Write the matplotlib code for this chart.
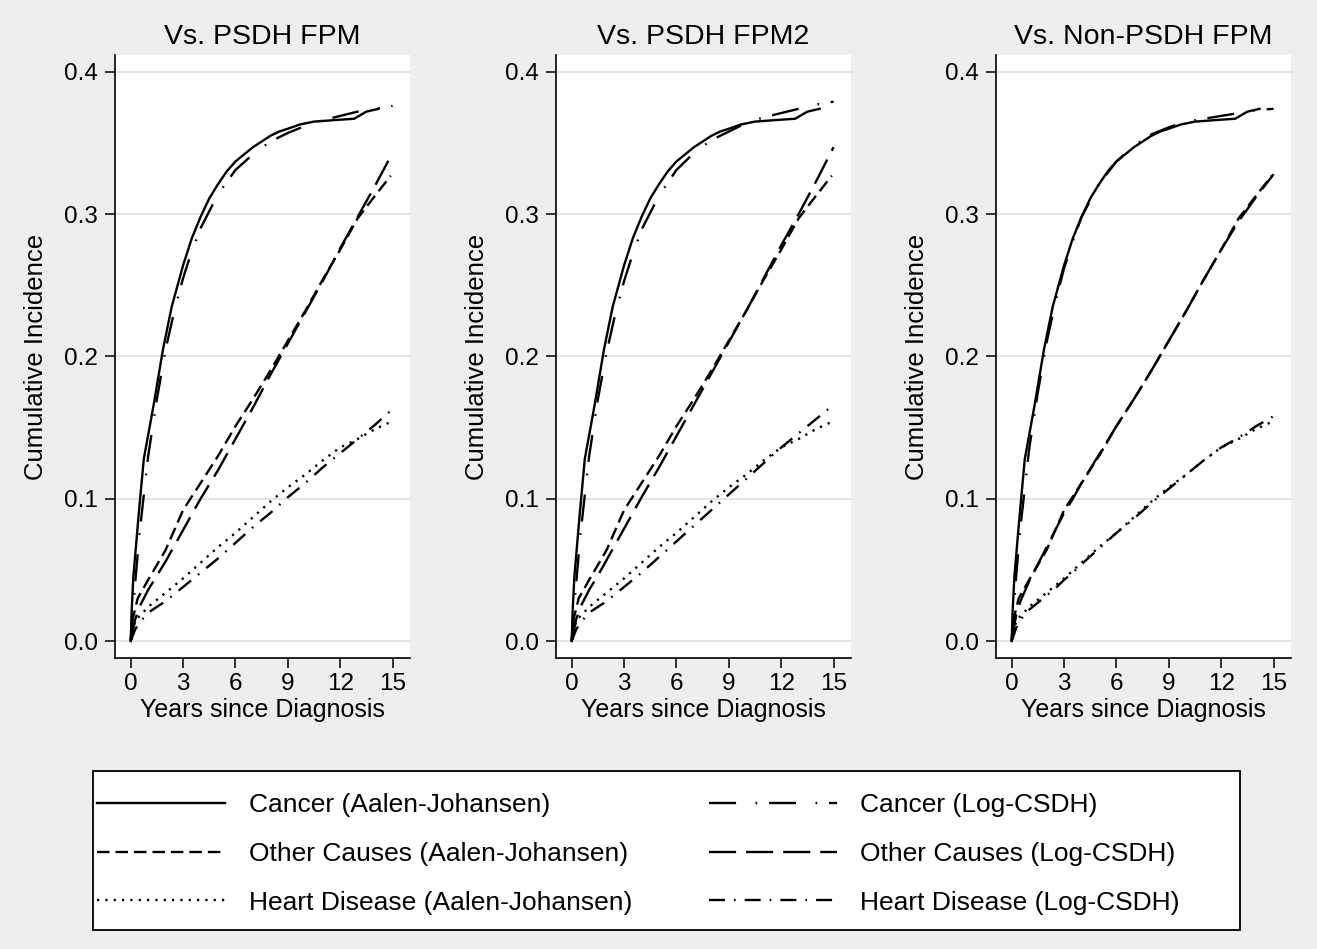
import matplotlib
matplotlib.use("Agg")
import matplotlib.pyplot as plt
from matplotlib.lines import Line2D
from matplotlib.patches import Rectangle

# Cumulative incidence: Aalen-Johansen vs fitted models, three panels

titles = ["Vs. PSDH FPM", "Vs. PSDH FPM2", "Vs. Non-PSDH FPM"]

# Aalen-Johansen estimates (same in every panel)
aj_cancer_t = [0, 0.05, 0.15, 0.45, 0.75, 1.3, 1.85, 2.35, 3.0, 3.5, 4.0, 4.5, 5.0, 5.5, 6.0, 6.5, 7.0, 7.5, 8.0, 8.5, 9.0, 9.7, 10.5, 11.6, 12.8, 13.5, 14.2]
aj_cancer = [0, 0.02, 0.045, 0.088, 0.128, 0.165, 0.205, 0.235, 0.264, 0.283, 0.298, 0.311, 0.321, 0.33, 0.337, 0.342, 0.347, 0.351, 0.355, 0.358, 0.36, 0.363, 0.365, 0.366, 0.367, 0.372, 0.374]
aj_other_t = [0, 0.1, 0.4, 1, 2, 3, 4, 5, 6, 7, 8, 9, 10, 11, 12, 13, 14, 14.9]
aj_other = [0, 0.015, 0.03, 0.043, 0.064, 0.092, 0.111, 0.13, 0.151, 0.17, 0.19, 0.211, 0.232, 0.254, 0.275, 0.297, 0.313, 0.327]
aj_heart_t = [0, 0.1, 0.3, 0.7, 1, 2, 3, 4, 5, 6, 7, 8, 9, 10, 11, 12, 13, 14, 14.9]
aj_heart = [0, 0.008, 0.015, 0.02, 0.024, 0.034, 0.044, 0.055, 0.066, 0.076, 0.087, 0.098, 0.108, 0.117, 0.127, 0.136, 0.142, 0.149, 0.154]

# Log-CSDH predictions from each model
model_t = [0, 0.25, 0.5, 1, 1.5, 2, 2.5, 3, 3.5, 4, 5, 6, 7, 8, 9, 10, 11, 12, 13, 14, 15]

psdh_cancer = [0, 0.04, 0.075, 0.13, 0.17, 0.205, 0.232, 0.255, 0.274, 0.29, 0.314, 0.331, 0.342, 0.351, 0.357, 0.362, 0.366, 0.369, 0.372, 0.374, 0.376]
psdh_other = [0, 0.015, 0.024, 0.036, 0.046, 0.056, 0.067, 0.078, 0.089, 0.1, 0.12, 0.142, 0.164, 0.187, 0.209, 0.231, 0.253, 0.276, 0.298, 0.32, 0.343]
psdh_heart = [0, 0.008, 0.013, 0.02, 0.024, 0.028, 0.033, 0.038, 0.043, 0.048, 0.058, 0.069, 0.08, 0.09, 0.101, 0.111, 0.122, 0.132, 0.142, 0.152, 0.163]

psdh2_cancer = [0, 0.04, 0.075, 0.13, 0.17, 0.203, 0.23, 0.253, 0.272, 0.289, 0.313, 0.331, 0.343, 0.352, 0.358, 0.364, 0.368, 0.371, 0.374, 0.377, 0.379]
psdh2_other = [0, 0.015, 0.024, 0.036, 0.046, 0.057, 0.068, 0.079, 0.09, 0.101, 0.122, 0.144, 0.166, 0.188, 0.21, 0.232, 0.255, 0.278, 0.3, 0.323, 0.347]
psdh2_heart = [0, 0.008, 0.013, 0.02, 0.024, 0.028, 0.033, 0.038, 0.043, 0.048, 0.059, 0.07, 0.081, 0.092, 0.103, 0.114, 0.125, 0.136, 0.146, 0.156, 0.166]

nonpsdh_cancer = [0, 0.045, 0.08, 0.135, 0.175, 0.21, 0.238, 0.262, 0.281, 0.298, 0.321, 0.337, 0.348, 0.356, 0.361, 0.365, 0.367, 0.369, 0.371, 0.373, 0.374]
nonpsdh_other = [0, 0.018, 0.028, 0.042, 0.054, 0.066, 0.078, 0.09, 0.1, 0.111, 0.131, 0.151, 0.17, 0.19, 0.211, 0.232, 0.254, 0.275, 0.295, 0.312, 0.328]
nonpsdh_heart = [0, 0.009, 0.015, 0.022, 0.027, 0.032, 0.037, 0.043, 0.048, 0.054, 0.065, 0.076, 0.086, 0.097, 0.107, 0.117, 0.127, 0.136, 0.143, 0.151, 0.158]

models = [
    (psdh_cancer, psdh_other, psdh_heart),
    (psdh2_cancer, psdh2_other, psdh2_heart),
    (nonpsdh_cancer, nonpsdh_other, nonpsdh_heart),
]

labels = ["Cancer (Aalen-Johansen)", "Other Causes (Aalen-Johansen)", "Heart Disease (Aalen-Johansen)",
          "Cancer (Log-CSDH)", "Other Causes (Log-CSDH)", "Heart Disease (Log-CSDH)"]

# dash patterns in points
styles = ["-", (0, (9, 4.3)), (0, (1.6, 4.4)),
          (0, (19.5, 14, 1.2, 8.5)), (0, (19.5, 7.2)), (0, (11.5, 6.5, 1.2, 6.5))]

plt.rcParams["font.family"] = "Liberation Sans"
plt.rcParams["lines.scale_dashes"] = False

bg = "#eeeeee"
fig = plt.figure(figsize=(13.17, 9.49), dpi=100, facecolor=bg)

W, H = 1317, 949
lefts = [115, 556, 996]
lw = 1.7

for i, left in enumerate(lefts):
    ax = fig.add_axes([left / W, 1 - 658 / H, 295 / W, 603 / H])
    ax.set_facecolor("white")
    aj_data = [(aj_cancer_t, aj_cancer), (aj_other_t, aj_other), (aj_heart_t, aj_heart)]
    for k, (t, v) in enumerate(aj_data):
        ax.plot(t, v, color="black", lw=lw, linestyle=styles[k])
    for k, v in enumerate(models[i]):
        ax.plot(model_t, v, color="black", lw=lw, linestyle=styles[k + 3])

    ax.set_xlim(-0.9, 16.0)
    ax.set_ylim(-0.0119, 0.4118)
    ax.set_xticks([0, 3, 6, 9, 12, 15])
    ax.set_yticks([0.0, 0.1, 0.2, 0.3, 0.4])
    ax.set_yticklabels(["0.0", "0.1", "0.2", "0.3", "0.4"])
    ax.grid(axis="y", color="#e2e2e2", lw=1.3)
    ax.set_axisbelow(True)
    for s in ["top", "right"]:
        ax.spines[s].set_visible(False)
    for s in ["left", "bottom"]:
        ax.spines[s].set_linewidth(1.2)
    ax.tick_params(direction="out", length=7, width=1.1, pad=4, labelsize=17.5)
    ax.tick_params(axis="y", pad=5)
    ax.set_title(titles[i], fontsize=20.5, pad=8)
    ax.set_xlabel("Years since Diagnosis", fontsize=18, labelpad=2)
    ax.set_ylabel("Cumulative Incidence", fontsize=18.5, labelpad=12)

# legend box
box = Rectangle((93 / W, 1 - 930 / H), (1240 - 93) / W, (930 - 771) / H,
                transform=fig.transFigure, facecolor="white", edgecolor="black", lw=1.3)
fig.add_artist(box)

handles = [Line2D([0], [0], color="black", lw=lw, linestyle=s) for s in styles]
fig.legend(handles, labels, ncol=2, loc="upper left", bbox_to_anchor=(97 / W, 1 - 793 / H),
           frameon=False, fontsize=19, handlelength=4.85, handletextpad=0.9,
           columnspacing=2.9, labelspacing=0.94, borderpad=0, borderaxespad=0)

plt.savefig("out.png", dpi=100, facecolor=bg)
